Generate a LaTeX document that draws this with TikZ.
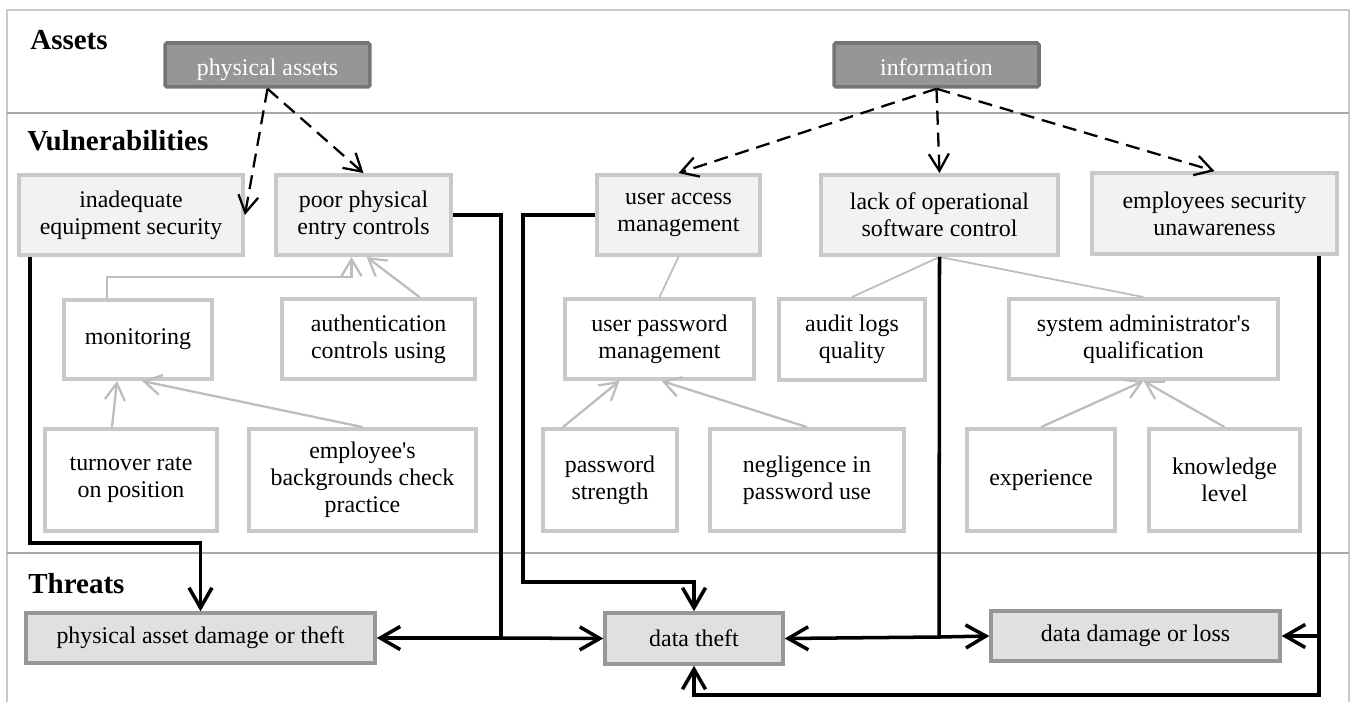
\documentclass[tikz,border=0pt]{standalone}
\usepackage{fontspec}
\setmainfont{Liberation Serif}[Ligatures=TeXOff]
\usetikzlibrary{arrows.meta,calc}
\definecolor{assetfill}{HTML}{969696}
\definecolor{assetline}{HTML}{757575}
\definecolor{vulnfill}{HTML}{F2F2F2}
\definecolor{boxline}{HTML}{C9C9C9}
\definecolor{threatfill}{HTML}{E0E0E0}
\definecolor{threatline}{HTML}{979797}
\definecolor{feedgray}{HTML}{BDBDBD}
\definecolor{rulegray}{HTML}{A8A8A8}
\tikzstyle{asset} = [fill=assetfill, draw=assetline, line width=2pt, rounded corners=1pt, text=white, inner sep=0pt, text height=11.4pt, text depth=0pt]
\tikzstyle{vuln} = [fill=vulnfill, draw=boxline, line width=2.2pt, align=center, inner sep=0pt]
\tikzstyle{factor} = [fill=white, draw=boxline, line width=2.2pt, align=center, inner sep=0pt]
\tikzstyle{threat} = [fill=threatfill, draw=threatline, line width=2pt, inner sep=0pt]
\tikzstyle{head} = [anchor=base west, inner sep=0pt, font=\bfseries\fontsize{16.5pt}{19pt}\selectfont]
\tikzstyle{impact} = [draw=black, line width=2pt, -{Straight Barb[length=4mm,width=4.6mm]}]
\tikzstyle{expose} = [draw=black, line width=1.3pt, dash pattern=on 8pt off 4.5pt, -{Straight Barb[length=3.4mm,width=4mm]}]
\tikzstyle{feed} = [draw=feedgray, line width=1.3pt, -{Straight Barb[length=3.4mm,width=4mm]}]
\tikzstyle{tie} = [draw=feedgray, line width=1pt]

\begin{document}
\begin{tikzpicture}[x=0.02cm, y=-0.02cm, font=\fontsize{13.6pt}{15.3pt}\selectfont]
  \useasboundingbox (0,0) rectangle (1351,702);
  \draw [boxline, line width=0.9pt] (7,702) -- (7,10) -- (1349,10) -- (1349,702);
  \draw [rulegray, line width=0.7pt] (7,113) -- (1349,113);
  \draw [rulegray, line width=0.7pt] (7,553) -- (1349,553);
  \node (hassets) at (30,50) [head] {Assets};
  \node (hvuln) at (27,151) [head] {Vulnerabilities};
  \node (hthreat) at (28,593) [head] {Threats};
  % assets
  \node (pa) at (267.5,65) [asset, minimum width=4.1cm, minimum height=0.88cm] {physical assets};
  \node (info) at (936.5,65) [asset, minimum width=4.1cm, minimum height=0.88cm] {information};
  % vulnerabilities
  \node (ieq) at (131,215) [vuln, minimum width=4.48cm, minimum height=1.6cm] {inadequate\\equipment security};
  \node (ppe) at (363.5,215) [vuln, minimum width=3.5cm, minimum height=1.6cm] {poor physical\\entry controls};
  \node (uam) at (678.5,215) [vuln, minimum width=3.26cm, minimum height=1.6cm] {user access\\management};
  \node (lack) at (939.5,215) [vuln, minimum width=4.74cm, minimum height=1.6cm] {lack of operational\\software control};
  \node (eu) at (1214.5,213.5) [vuln, minimum width=4.9cm, minimum height=1.62cm] {employees security\\unawareness};
  \node (mon) at (138,339.5) [factor, minimum width=2.96cm, minimum height=1.58cm] {monitoring};
  \node (auth) at (378.5,339) [factor, minimum width=3.86cm, minimum height=1.6cm] {authentication\\controls using};
  \node (upm) at (659.5,339) [factor, minimum width=3.78cm, minimum height=1.6cm] {user password\\management};
  \node (audit) at (852,339.5) [factor, minimum width=2.92cm, minimum height=1.62cm] {audit logs\\quality};
  \node (sysad) at (1143.5,339) [factor, minimum width=5.38cm, minimum height=1.6cm] {system administrator's\\qualification};
  \node (turn) at (131,480) [factor, minimum width=3.44cm, minimum height=2.04cm] {turnover rate\\on position};
  \node (empbg) at (362.5,480) [factor, minimum width=4.54cm, minimum height=2.04cm] {employee's\\backgrounds check\\practice};
  \node (pws) at (610,480) [factor, minimum width=2.68cm, minimum height=2.04cm] {password\\strength};
  \node (negl) at (807,480) [factor, minimum width=3.88cm, minimum height=2.04cm] {negligence in\\password use};
  \node (exper) at (1041,480) [factor, minimum width=2.96cm, minimum height=2.04cm] {experience};
  \node (know) at (1224.5,480) [factor, minimum width=3.02cm, minimum height=2.04cm] {knowledge\\level};
  % threats
  \node (pad) at (200.5,638) [threat, minimum width=6.98cm, minimum height=1cm] {physical asset damage or theft};
  \node (dt) at (694,638.5) [threat, minimum width=3.56cm, minimum height=1.02cm] {data theft};
  \node (ddl) at (1135.5,636) [threat, minimum width=5.78cm, minimum height=1cm] {data damage or loss};
  \coordinate (jl) at (501,638);
  \coordinate (jr) at (939,637);
  \coordinate (er) at (1319,256);
  % assets to vulnerabilities
  \draw [expose] (pa.south) -- (ieq.east);
  \draw [expose] (pa.south) -- (ppe.north);
  \draw [expose] (info.south) -- (uam.north);
  \draw [expose] (info.south) -- (lack.north);
  \draw [expose] (info.south) -- (eu.north);
  % contributing factors
  \draw [feed] ($(mon.north)+(-31,0)$) -- ++(0,-21) -| ($(ppe.south)+(-12,0)$);
  \draw [feed] ($(auth.north)+(41,0)$) -- ($(ppe.south)+(3,0)$);
  \draw [feed] ($(turn.north)+(-19,0)$) -- ($(mon.south)+(-21,0)$);
  \draw [feed] (empbg.north) -- ($(mon.south)+(4,0)$);
  \draw [feed] ($(pws.north)+(-47,0)$) -- ($(upm.south)+(-40,0)$);
  \draw [feed] (negl.north) -- ($(upm.south)+(2,0)$);
  \draw [feed] (exper.north) -- (sysad.south);
  \draw [feed] (know.north) -- (sysad.south);
  \draw [tie] (uam.south) -- (upm.north);
  \draw [tie] (lack.south) -- (audit.north);
  \draw [tie] (lack.south) -- (sysad.north);
  % vulnerabilities to threats
  \draw [impact] ($(ieq.south)+(-101,0)$) -- ++(0,286) -| (pad.north);
  \draw [impact] (ppe.east) -| (jl) -- (pad.east);
  \draw [impact] (jl) -- (dt.west);
  \draw [impact] (uam.west) -- ++(-72,0) |- ($(dt.north)+(0,-29)$) -- (dt.north);
  \draw [impact] (lack.south) -- (jr) -- (dt.east);
  \draw [impact] (jr) -- (ddl.west);
  \draw [impact] (er) |- ($(dt.south)+(0,29)$) -- (dt.south);
  \draw [impact] (er |- ddl.east) -- (ddl.east);
\end{tikzpicture}
\end{document}
